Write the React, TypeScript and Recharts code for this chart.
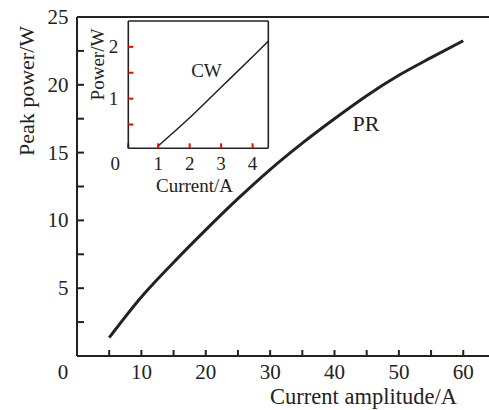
import { LineChart, Line, XAxis, YAxis, ReferenceLine } from "recharts";

// main plot: peak power (PR) vs current amplitude
const prCurrent = [5, 10, 15, 20, 25, 30, 35, 40, 45, 50, 55, 60];
const prPower = [1.35, 4.35, 6.9, 9.3, 11.6, 13.75, 15.7, 17.5, 19.2, 20.7, 22.0, 23.25];

// inset: CW power vs current
const cwCurrent = [0.97, 2, 3, 4, 4.5];
const cwPower = [0.07, 0.63, 1.22, 1.81, 2.11];

const mainXTicks = [0, 5, 10, 15, 20, 25, 30, 35, 40, 45, 50, 55, 60];
const mainXLabels = [0, 10, 20, 30, 40, 50, 60];
const mainYTicks = [0, 2.5, 5, 7.5, 10, 12.5, 15, 17.5, 20, 22.5, 25];
const mainYLabels = [5, 10, 15, 20, 25];

const insetXTicks = [0.05, 1, 2, 3, 4];
const insetXLabels = [1, 2, 3, 4];
const insetYTicks = [0.5, 1, 1.5, 2];
const insetYLabels = [1, 2];

const prData = prCurrent.map((x, i) => ({ x, y: prPower[i] }));
const cwData = cwCurrent.map((x, i) => ({ x, y: cwPower[i] }));

const INK = "#222";
const FONT = "'Liberation Serif', 'DejaVu Serif', serif";

const MainXTick = ({ x, y, payload }: any) => {
    const v = payload.value;
    if (!mainXLabels.includes(v)) return <g />;
    return (
        <text x={v === 0 ? x - 14 : x} y={y + 23} textAnchor="middle" fontSize={21} fontFamily={FONT} fill={INK}>
            {v}
        </text>
    );
};

const MainYTick = ({ x, y, payload }: any) => {
    const v = payload.value;
    if (!mainYLabels.includes(v)) return <g />;
    return (
        <text x={x - 8.5} y={y + 7} textAnchor="end" fontSize={21} fontFamily={FONT} fill={INK}>
            {v}
        </text>
    );
};

const InsetXTick = ({ x, y, payload }: any) => {
    const v = payload.value;
    if (v < 0.5) {
        return (
            <text x={x - 13} y={y + 22} textAnchor="middle" fontSize={19} fontFamily={FONT} fill={INK}>
                0
            </text>
        );
    }
    if (!insetXLabels.includes(v)) return <g />;
    return (
        <text x={x} y={y + 22} textAnchor="middle" fontSize={19} fontFamily={FONT} fill={INK}>
            {v}
        </text>
    );
};

const InsetYTick = ({ x, y, payload }: any) => {
    const v = payload.value;
    if (!insetYLabels.includes(v)) return <g />;
    return (
        <text x={x - 10} y={y + 6.5} textAnchor="end" fontSize={19} fontFamily={FONT} fill={INK}>
            {v}
        </text>
    );
};

export default function App() {
    return (
        <div style={{ position: "absolute", left: 0, top: 0, width: 489, height: 410, background: "#fff" }}>
            {/* Titles and curve labels */}
            <svg width={489} height={410} style={{ position: "absolute", left: 0, top: 0 }}>
                <g fontFamily={FONT} fill={INK}>
                    <text x={363.5} y={404} textAnchor="middle" fontSize={22.5}>
                        Current amplitude/A
                    </text>
                    <text transform="translate(26,91) rotate(-90)" textAnchor="middle" dy="0.35em" fontSize={22}>
                        Peak power/W
                    </text>
                    <text x={194.5} y={192} textAnchor="middle" fontSize={19}>
                        Current/A
                    </text>
                    <text transform="translate(97,64.5) rotate(-90)" textAnchor="middle" dy="0.35em" fontSize={19}>
                        Power/W
                    </text>
                    <text x={366} y={130.5} textAnchor="middle" fontSize={22}>
                        PR
                    </text>
                    <text x={206.5} y={76.5} textAnchor="middle" fontSize={19}>
                        CW
                    </text>
                </g>
            </svg>

            {/* Inset chart (mounted first) */}
            <div style={{ position: "absolute", left: 100, top: 0 }}>
                <LineChart width={180} height={200} data={cwData} margin={{ top: 21, right: 11.7, left: 0, bottom: 0 }}>
                    <XAxis
                        dataKey="x"
                        type="number"
                        domain={[0.05, 4.5]}
                        ticks={insetXTicks}
                        interval={0}
                        height={51.7}
                        tickSize={-5}
                        tickMargin={5}
                        tick={<InsetXTick />}
                        axisLine={{ stroke: INK, strokeWidth: 1.6 }}
                        tickLine={{ stroke: "red", strokeWidth: 2 }}
                    />
                    <YAxis
                        type="number"
                        domain={[0.04, 2.5]}
                        ticks={insetYTicks}
                        interval={0}
                        width={28.3}
                        tickSize={-5}
                        tickMargin={5}
                        tick={<InsetYTick />}
                        axisLine={{ stroke: INK, strokeWidth: 1.6 }}
                        tickLine={{ stroke: "red", strokeWidth: 2 }}
                    />
                    <ReferenceLine y={2.5} stroke={INK} strokeWidth={1.6} />
                    <ReferenceLine x={4.5} stroke={INK} strokeWidth={1.6} />
                    <Line
                        dataKey="y"
                        type="monotone"
                        stroke={INK}
                        strokeWidth={1.5}
                        dot={false}
                        isAnimationActive={false}
                    />
                </LineChart>
            </div>

            {/* Main chart */}
            <div style={{ position: "absolute", left: 0, top: 0, pointerEvents: "none" }}>
                <LineChart width={489} height={410} data={prData} margin={{ top: 17, right: 0, left: 0, bottom: 0 }}>
                    <XAxis
                        dataKey="x"
                        type="number"
                        domain={[0, 64]}
                        ticks={mainXTicks}
                        interval={0}
                        height={54}
                        tickSize={-6}
                        tickMargin={6}
                        tick={<MainXTick />}
                        axisLine={{ stroke: INK, strokeWidth: 2 }}
                        tickLine={{ stroke: INK, strokeWidth: 2 }}
                    />
                    <YAxis
                        type="number"
                        domain={[0, 25]}
                        ticks={mainYTicks}
                        interval={0}
                        width={77}
                        tickSize={-7}
                        tickMargin={7}
                        tick={<MainYTick />}
                        axisLine={{ stroke: INK, strokeWidth: 2 }}
                        tickLine={{ stroke: INK, strokeWidth: 2 }}
                    />
                    <ReferenceLine y={25} stroke={INK} strokeWidth={2} />
                    <Line
                        dataKey="y"
                        type="monotone"
                        stroke={INK}
                        strokeWidth={3}
                        dot={false}
                        isAnimationActive={false}
                    />
                </LineChart>
            </div>
        </div>
    );
}
